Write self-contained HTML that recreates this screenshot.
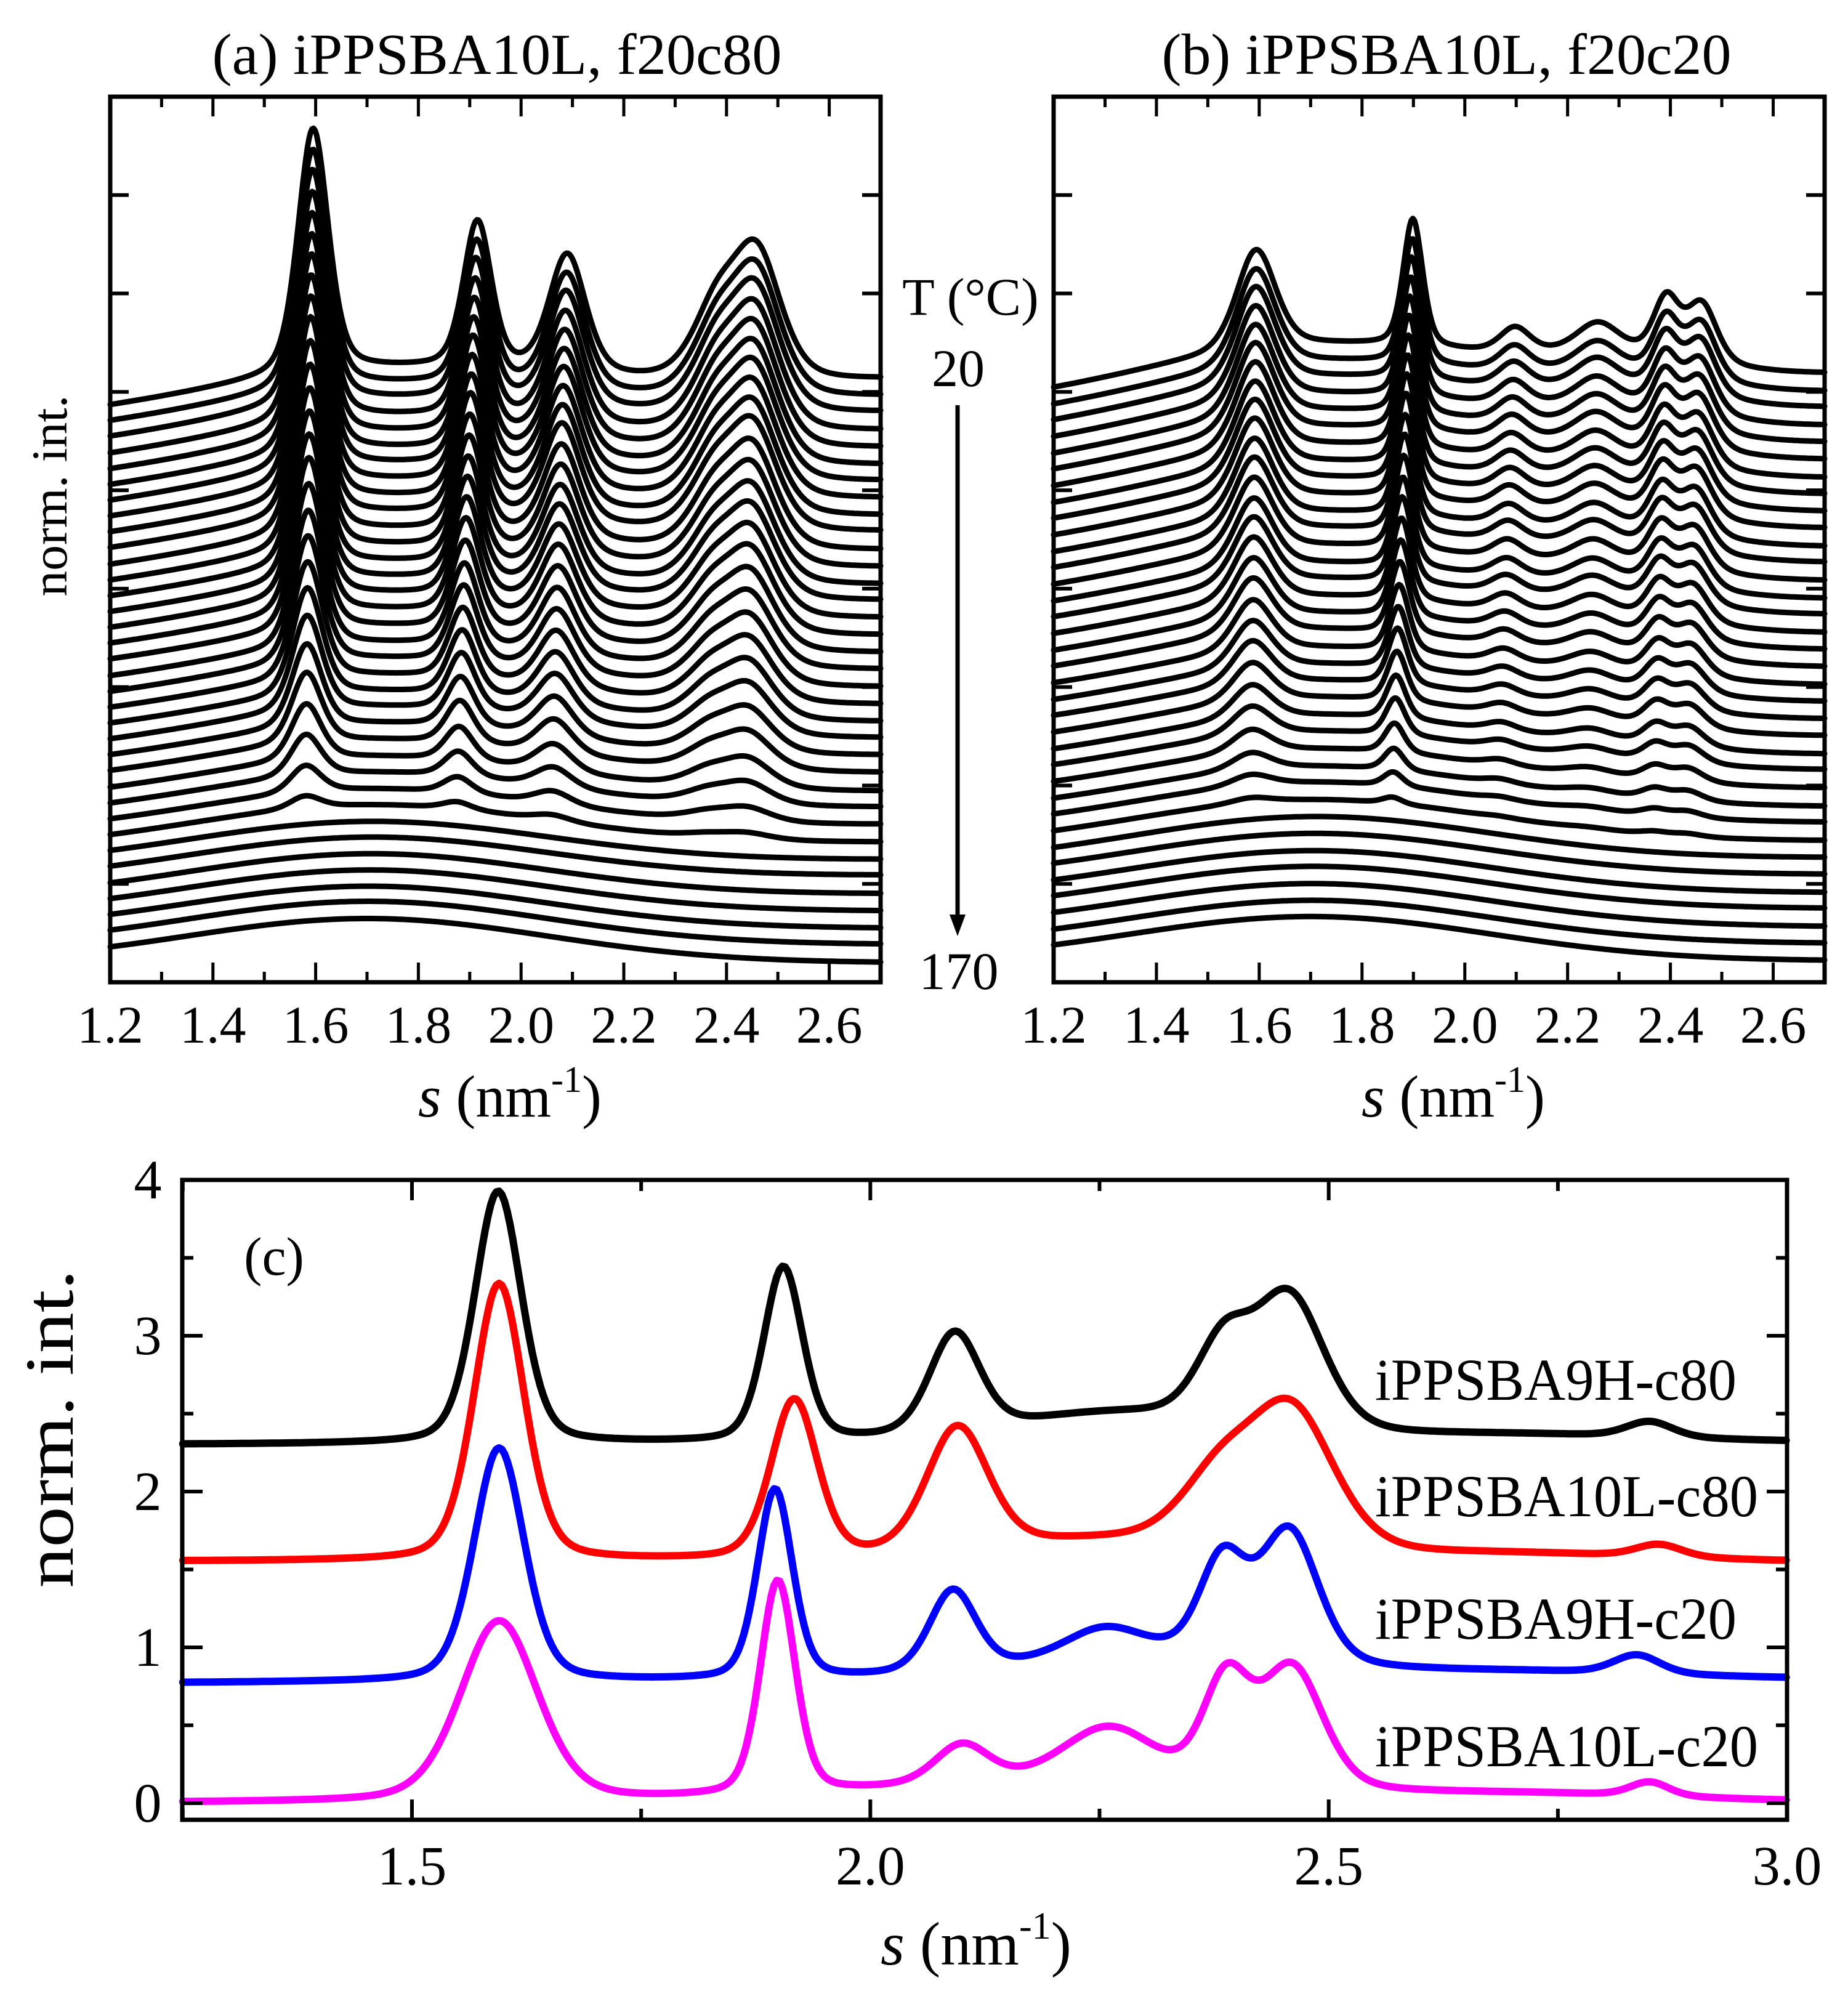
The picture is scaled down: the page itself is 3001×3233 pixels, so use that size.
<!DOCTYPE html>
<html><head><meta charset="utf-8"><style>
html,body{margin:0;padding:0;background:#fff;}
svg{display:block;}
text{font-family:"Liberation Serif",serif;fill:#000;}
</style></head><body>
<svg id="fig" xmlns="http://www.w3.org/2000/svg" width="3001" height="3233" viewBox="0 0 3001 3233">
<rect width="3001" height="3233" fill="#fff"/>
<g id="pa"></g>
<g id="pb"></g>
<g id="pc"></g>
<text x="807" y="120" font-size="94" text-anchor="middle" textLength="925" lengthAdjust="spacingAndGlyphs">(a) iPPSBA10L, f20c80</text>
<text x="2349" y="120" font-size="94" text-anchor="middle" textLength="925" lengthAdjust="spacingAndGlyphs">(b) iPPSBA10L, f20c20</text>
<text x="0" y="0" font-size="82" text-anchor="middle" textLength="327" lengthAdjust="spacingAndGlyphs" transform="translate(108,805) rotate(-90)">norm. int.</text>
<text x="828" y="1813" font-size="96" text-anchor="middle"><tspan font-style="italic">s</tspan> (nm<tspan font-size="60" dy="-40">-1</tspan><tspan dy="40">)</tspan></text>
<text x="2360" y="1813" font-size="96" text-anchor="middle"><tspan font-style="italic">s</tspan> (nm<tspan font-size="60" dy="-40">-1</tspan><tspan dy="40">)</tspan></text>
<text x="1576" y="511" font-size="86" text-anchor="middle">T (°C)</text>
<text x="1556" y="627" font-size="86" text-anchor="middle">20</text>
<text x="1557" y="1606" font-size="86" text-anchor="middle">170</text>
<line x1="1555" y1="658" x2="1555" y2="1490" stroke="#000" stroke-width="7"/>
<polygon points="1542,1485 1568,1485 1555,1520" fill="#000"/>
<text x="0" y="0" font-size="112" text-anchor="middle" textLength="517" lengthAdjust="spacingAndGlyphs" transform="translate(118,2320) rotate(-90)">norm. int.</text>
<text x="1585" y="3190" font-size="100" text-anchor="middle"><tspan font-style="italic">s</tspan> (nm<tspan font-size="62" dy="-42">-1</tspan><tspan dy="42">)</tspan></text>
<text x="445" y="2070" font-size="88" text-anchor="middle">(c)</text>
<text x="2233" y="2273" font-size="96" textLength="587" lengthAdjust="spacingAndGlyphs">iPPSBA9H-c80</text>
<text x="2233" y="2462" font-size="96" textLength="622" lengthAdjust="spacingAndGlyphs">iPPSBA10L-c80</text>
<text x="2233" y="2661" font-size="96" textLength="587" lengthAdjust="spacingAndGlyphs">iPPSBA9H-c20</text>
<text x="2233" y="2868" font-size="96" textLength="622" lengthAdjust="spacingAndGlyphs">iPPSBA10L-c20</text>
</svg>
<script>
// ---------- Panels (a) and (b): stacked WAXS curves, 20 -> 170 C ----------
const temps = [20,24,29,33,38,42,46,51,55,60,64,68,73,77,82,86,90,95,99,104,108,112,117,121,126,130,134,139,143,148,152,156,161,165,170];
const leftEdgeA = [5.86,5.70,5.54,5.37,5.21,5.05,4.89,4.73,4.57,4.41,4.24,4.08,3.92,3.76,3.60,3.44,3.28,3.11,2.95,2.79,2.63,2.47,2.31,2.15,1.98,1.82,1.66,1.50,1.34,1.18,1.01,0.85,0.69,0.53,0.36];
const leftEdgeB = [6.04,5.87,5.71,5.54,5.37,5.21,5.04,4.87,4.71,4.54,4.37,4.21,4.04,3.87,3.71,3.54,3.37,3.21,3.04,2.87,2.71,2.54,2.37,2.21,2.04,1.87,1.71,1.54,1.37,1.21,1.04,0.88,0.71,0.54,0.38];
const amorA = [0.35,0.35,0.36,0.36,0.36,0.36,0.37,0.37,0.37,0.37,0.38,0.38,0.38,0.38,0.39,0.39,0.39,0.39,0.4,0.4,0.4,0.41,0.41,0.41,0.42,0.42,0.42,0.43,0.43,0.43,0.44,0.44,0.44,0.45,0.45];
const amorB = [0.5,0.5,0.5,0.5,0.5,0.5,0.5,0.49,0.49,0.49,0.49,0.49,0.49,0.48,0.48,0.48,0.48,0.48,0.47,0.47,0.47,0.47,0.47,0.46,0.46,0.46,0.46,0.46,0.46,0.45,0.45,0.45,0.45,0.45,0.45];
const tiltA = [0.25,0.24,0.24,0.23,0.22,0.21,0.21,0.2,0.19,0.19,0.18,0.17,0.16,0.16,0.15,0.14,0.13,0.13,0.12,0.11,0.1,0.1,0.09,0.08,0.07,0.07,0.06,0.05,0.04,0.04,0.03,0.02,0.01,0.01,0];
const tiltB = [0.2,0.19,0.19,0.18,0.18,0.17,0.16,0.16,0.15,0.15,0.14,0.14,0.13,0.12,0.12,0.11,0.11,0.1,0.09,0.09,0.08,0.08,0.07,0.07,0.06,0.05,0.05,0.04,0.04,0.03,0.02,0.02,0.01,0.01,0];
const crystA = [1,0.98,0.96,0.94,0.92,0.9,0.88,0.86,0.84,0.82,0.79,0.76,0.73,0.7,0.67,0.64,0.6,0.56,0.52,0.48,0.44,0.39,0.34,0.29,0.23,0.17,0.11,0.05,0,0,0,0,0,0,0];
const crystB = [1,0.98,0.96,0.94,0.92,0.9,0.88,0.86,0.84,0.82,0.79,0.76,0.73,0.7,0.67,0.64,0.6,0.56,0.52,0.48,0.44,0.39,0.34,0.29,0.23,0.17,0.11,0.05,0,0,0,0,0,0,0];
const peakPosA = [1.595,1.915,2.09,2.38,2.46];
const peakAmpA = [2.5,1.5,1.22,0.7,1.25];
const peakWidA = [0.07,0.065,0.085,0.11,0.11];
const peakShiftA = [-0.015,-0.04,-0.03,-0.02,-0.02];
const peakPosB = [1.594,1.899,2.098,2.259,2.392,2.461,2.3];
const peakAmpB = [1.02,1.3,0.25,0.3,0.6,0.6,0.18];
const peakWidB = [0.09,0.045,0.07,0.1,0.06,0.07,0.4];
const peakShiftB = [-0.01,-0.04,-0.033,-0.02,-0.025,-0.03,0];
const xTicksAB = [1.2,1.4,1.6,1.8,2.0,2.2,2.4,2.6];
const xMinorAB = [1.3,1.5,1.7,1.9,2.1,2.3,2.5,2.7];
const yTicksAB = [1,2,3,4,5,6,7,8];

// ---------- Panel (c) ----------
const seriesC = ["iPPSBA9H-c80","iPPSBA10L-c80","iPPSBA9H-c20","iPPSBA10L-c20"];
const colorsC = ["#000000","#ff0000","#0000ff","#ff00ff"];
const baseLeftC = [2.3,1.55,0.77,0.0];
const baseRightC = [2.31,1.54,0.79,0.0];
const posC = [
  [1.594,1.905,2.092,2.27,2.385,2.457,2.85,2.7],
  [1.595,1.917,2.095,2.25,2.38,2.46,2.86,2.7],
  [1.595,1.896,2.09,2.255,2.384,2.457,2.836,2.3,2.7],
  [1.595,1.899,2.1,2.26,2.388,2.46,2.85,2.2,2.72]];
const ampC = [
  [1.62,1.12,0.64,0.18,0.48,0.86,0.1,0.05],
  [1.78,1.02,0.8,0.12,0.42,0.9,0.08,0.05],
  [1.5,1.22,0.52,0.18,0.62,0.85,0.12,0.15,0.05],
  [1.16,1.37,0.25,0.35,0.66,0.78,0.09,0.12,0.05]];
const widC = [
  [0.06,0.05,0.065,0.3,0.07,0.09,0.06,0.4],
  [0.065,0.06,0.08,0.3,0.1,0.11,0.06,0.4],
  [0.065,0.045,0.06,0.1,0.06,0.075,0.06,0.35,0.4],
  [0.1,0.045,0.07,0.12,0.06,0.08,0.05,0.5,0.4]];
const xTicksC = [1.5,2.0,2.5,3.0];
const xTickLabelsC = ["1.5","2.0","2.5","3.0"];
const xMinorC = [1.25,1.75,2.25,2.75];
const yTicksC = [0,1,2,3,4];
const yMinorC = [0.5,1.5,2.5,3.5];

const NS = "http://www.w3.org/2000/svg";
function mk(tag, attrs, parent){ const e=document.createElementNS(NS,tag); for(const k in attrs) e.setAttribute(k,attrs[k]); parent.appendChild(e); return e; }
function pv(s,c,a,w,eta){ const d=(s-c)/w; return a*(eta/(1+4*d*d)+(1-eta)*Math.exp(-4*Math.LN2*d*d)); }
function halo(s){ return Math.exp(-(s-1.7)*(s-1.7)/0.245); }

function drawStack(g, x0, x1, y0, y1, le, am, ti, cr, pp, pa, pw, ps, prefix){
  const sx = s => x0 + (s-1.2)/1.5*(x1-x0);
  const sy = v => y1 - v*(y1-y0)/9;
  for(let i=0;i<le.length;i++){
    const off = le[i] - am[i]*halo(1.2);
    const f = Math.min(1,(temps[i]-20)/(139-20));
    let d="";
    for(let s=1.2;s<=2.7001;s+=0.003){
      let v = off + am[i]*halo(s) + ti[i]*(s-1.2);
      for(let k=0;k<pp.length;k++) v += cr[i]*pv(s, pp[k]+ps[k]*f, pa[k], pw[k], 0.4);
      d += (d?"L":"M")+sx(s).toFixed(1)+","+sy(v).toFixed(1);
    }
    const p = mk("path",{d:d,fill:"none",stroke:"#000","stroke-width":9,"stroke-linejoin":"round","stroke-linecap":"round"},g);
    
    
  }
  const fr = mk("rect",{x:x0,y:y0,width:x1-x0,height:y1-y0,fill:"none",stroke:"#000","stroke-width":7},g);
  
  
  xTicksAB.forEach(t=>{
    const x=sx(t);
    const a=mk("line",{x1:x,x2:x,y1:y1,y2:y1-32,stroke:"#000","stroke-width":5},g);
    
    
    const b=mk("line",{x1:x,x2:x,y1:y0,y2:y0+32,stroke:"#000","stroke-width":5},g);
    
    
    const tx=mk("text",{x:x,y:1693,"font-size":86,"text-anchor":"middle"},g);
    tx.textContent=t.toFixed(1);
    
    
  });
  xMinorAB.forEach(t=>{
    const x=sx(t);
    const a=mk("line",{x1:x,x2:x,y1:y1,y2:y1-17,stroke:"#000","stroke-width":5},g);
    
    
    const b=mk("line",{x1:x,x2:x,y1:y0,y2:y0+17,stroke:"#000","stroke-width":5},g);
    
    
  });
  yTicksAB.forEach(t=>{
    const y=sy(t);
    const a=mk("line",{x1:x0,x2:x0+30,y1:y,y2:y,stroke:"#000","stroke-width":6},g);
    
    
    const b=mk("line",{x1:x1,x2:x1-30,y1:y,y2:y,stroke:"#000","stroke-width":6},g);
    
    
  });
}
drawStack(document.getElementById("pa"),179,1430,157,1595,leftEdgeA,amorA,tiltA,crystA,peakPosA,peakAmpA,peakWidA,peakShiftA,"panel-a");
drawStack(document.getElementById("pb"),1711,2963,157,1595,leftEdgeB,amorB,tiltB,crystB,peakPosB,peakAmpB,peakWidB,peakShiftB,"panel-b");

// panel c
(function(){
  const g=document.getElementById("pc");
  const X0=296,X1=2902,Y0=1916,Y1=2955;
  const sx = s => 669 + (s-1.5)*1488.7;
  const sy = v => 2928 - v*253;
  for(let j=0;j<seriesC.length;j++){
    let d="";
    for(let s=1.25;s<=3.0001;s+=0.003){
      let v = baseLeftC[j] + (baseRightC[j]-baseLeftC[j])*(s-1.25)/1.75;
      for(let k=0;k<posC[j].length;k++) v += pv(s,posC[j][k],ampC[j][k],widC[j][k],0.3);
      d += (d?"L":"M")+sx(s).toFixed(1)+","+sy(v).toFixed(1);
    }
    const p=mk("path",{d:d,fill:"none",stroke:colorsC[j],"stroke-width":12,"stroke-linejoin":"round","stroke-linecap":"round"},g);
    
    
  }
  const fr=mk("rect",{x:X0,y:Y0,width:X1-X0,height:Y1-Y0,fill:"none",stroke:"#000","stroke-width":7},g);
  
  
  xTicksC.forEach((t,i)=>{
    const x=sx(t);
    const a=mk("line",{x1:x,x2:x,y1:Y1,y2:Y1-33,stroke:"#000","stroke-width":6},g);
    
    
    const b=mk("line",{x1:x,x2:x,y1:Y0,y2:Y0+33,stroke:"#000","stroke-width":6},g);
    
    
    const tx=mk("text",{x:x,y:3060,"font-size":90,"text-anchor":"middle"},g);
    tx.textContent=xTickLabelsC[i];
    
    
  });
  xMinorC.forEach(t=>{
    const x=sx(t);
    const a=mk("line",{x1:x,x2:x,y1:Y1,y2:Y1-18,stroke:"#000","stroke-width":6},g);
    
    
    const b=mk("line",{x1:x,x2:x,y1:Y0,y2:Y0+18,stroke:"#000","stroke-width":6},g);
    
    
  });
  yTicksC.forEach(t=>{
    const y=sy(t);
    const a=mk("line",{x1:X0,x2:X0+33,y1:y,y2:y,stroke:"#000","stroke-width":6},g);
    
    
    const b=mk("line",{x1:X1,x2:X1-33,y1:y,y2:y,stroke:"#000","stroke-width":6},g);
    
    
    const tx=mk("text",{x:240,y:y+30,"font-size":90,"text-anchor":"middle"},g);
    tx.textContent=String(t);
    
    
  });
  yMinorC.forEach(t=>{
    const y=sy(t);
    const a=mk("line",{x1:X0,x2:X0+18,y1:y,y2:y,stroke:"#000","stroke-width":6},g);
    
    
    const b=mk("line",{x1:X1,x2:X1-18,y1:y,y2:y,stroke:"#000","stroke-width":6},g);
    
    
  });
})();
</script>
</body></html>
